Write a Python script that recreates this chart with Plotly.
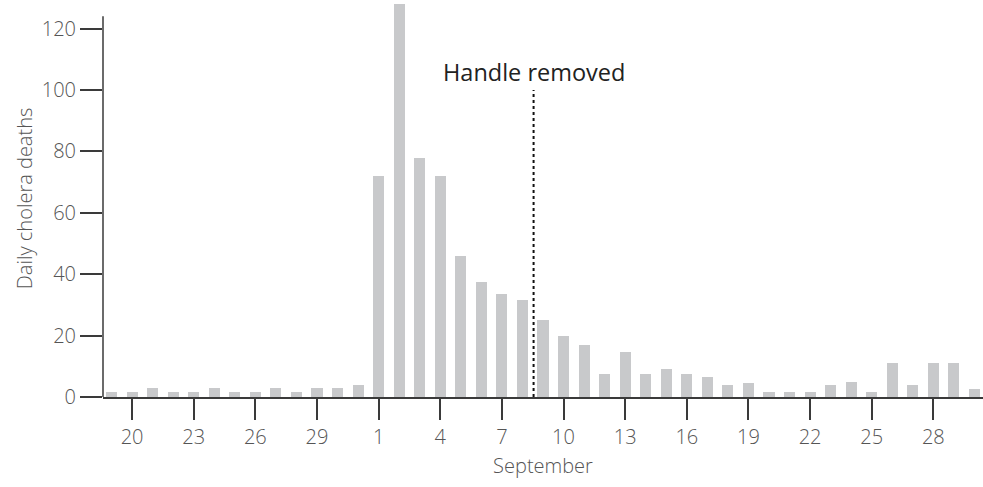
import pandas as pd
import plotly.graph_objects as go

# Daily deaths, Broad Street outbreak, 19 Aug - 30 Sep 1854
dates = pd.date_range("1854-08-19", "1854-09-30", freq="D")
deaths_aug = [1.5, 1.5, 3, 1.5, 1.5, 3, 1.5, 1.5, 3, 1.5, 3, 3, 4]
deaths_sep = [72, 128, 78, 72, 46, 37.5, 33.5, 31.5, 25, 20,
              17, 7.5, 14.5, 7.5, 9, 7.5, 6.5, 4, 4.5, 1.5,
              1.5, 1.5, 4, 5, 1.5, 11, 4, 11, 11, 2.5]
deaths = deaths_aug + deaths_sep

handle_removed = "1854-09-08 13:00"
handle_line_top = 100
handle_label_y = 106

y_ticks = [0, 20, 40, 60, 80, 100, 120]
y_axis_top = 124

axis_color = "#3a3a3a"
text_color = "#555555"
day_ms = 86400000

fig = go.Figure()

fig.add_trace(
    go.Bar(
        x=dates,
        y=deaths,
        width=0.54 * day_ms,
        marker=dict(color="#c8c9cb", line=dict(width=0)),
        hoverinfo="x+y",
    )
)

# dotted line where the pump handle was taken off
fig.add_shape(
    type="line",
    xref="x", yref="y",
    x0=handle_removed, x1=handle_removed,
    y0=0, y1=handle_line_top,
    line=dict(color="#111111", width=2, dash="dot"),
)
fig.add_annotation(
    x=handle_removed, y=handle_label_y,
    text="Handle removed",
    showarrow=False,
    font=dict(family="Open Sans", size=23.5, color="#222222"),
)

# y axis line stops short of the tallest bar, as in the original
fig.add_shape(
    type="line",
    xref="paper", yref="y",
    x0=0, x1=0, y0=0, y1=y_axis_top,
    line=dict(color=axis_color, width=1.5),
)

fig.update_xaxes(
    type="date",
    range=["1854-08-18 14:00", "1854-09-30 10:00"],
    tick0="1854-08-20",
    dtick=3 * day_ms,
    tickformat="%-d",
    ticks="outside",
    ticklen=21,
    tickwidth=1.5,
    tickcolor=axis_color,
    showline=True,
    linecolor=axis_color,
    linewidth=1.5,
    showgrid=False,
    zeroline=False,
    tickfont=dict(family="Open Sans", size=20, color=text_color, weight=300),
    title=dict(
        text="September",
        standoff=10,
        font=dict(family="Open Sans", size=20, color=text_color, weight=300),
    ),
)
fig.update_yaxes(
    range=[0, 129.3],
    tickvals=y_ticks,
    ticks="outside",
    ticklen=22,
    tickwidth=1.5,
    tickcolor=axis_color,
    showline=False,
    showgrid=False,
    zeroline=False,
    tickfont=dict(family="Open Sans", size=20, color=text_color, weight=300),
    title=dict(
        text="Daily cholera deaths",
        standoff=3,
        font=dict(family="Open Sans", size=20, color=text_color, weight=300),
    ),
)

fig.update_layout(
    width=983,
    height=487,
    margin=dict(l=103, r=0, t=0, b=90),
    plot_bgcolor="white",
    paper_bgcolor="white",
    showlegend=False,
    bargap=0,
)

# drop the browser's default body margin so the figure sits at the page corner
fig.write_html(
    "out.html",
    config={"displayModeBar": False},
    post_script="document.body.style.margin = '0';",
)
